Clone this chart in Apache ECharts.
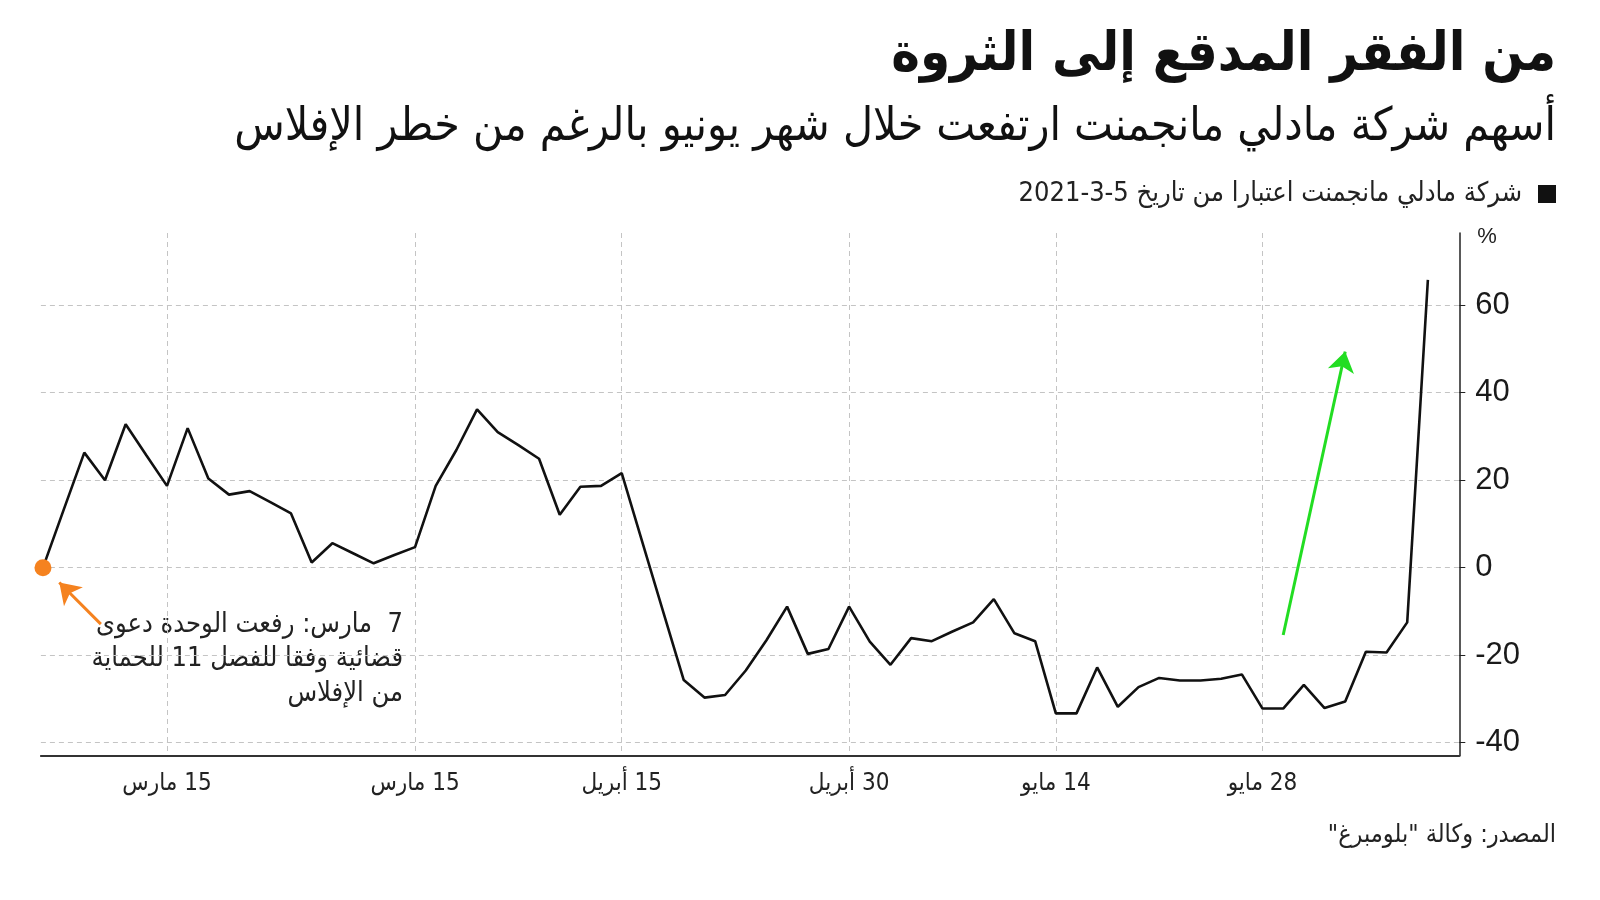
<!DOCTYPE html>
<html>
<head>
<meta charset="utf-8">
<script src="https://cdn.jsdelivr.net/npm/echarts@6/dist/echarts.min.js"></script>
<style>
html, body { margin: 0; padding: 0; background: #fff; }
#main { width: 1600px; height: 900px; direction: rtl; }
</style>
</head>
<body>
<div id="main"></div>
<script>
// أيام التداول (شهر-يوم) 2021
const dates = [
  '3-5', '3-8', '3-9', '3-10', '3-11', '3-12', '3-15', '3-16', '3-17', '3-18', '3-19',
  '3-22', '3-23', '3-24', '3-25', '3-26', '3-29', '3-30', '3-31',
  '4-1', '4-5', '4-6', '4-7', '4-8', '4-9', '4-12', '4-13', '4-14', '4-15', '4-16',
  '4-19', '4-20', '4-21', '4-22', '4-23', '4-26', '4-27', '4-28', '4-29', '4-30',
  '5-3', '5-4', '5-5', '5-6', '5-7', '5-10', '5-11', '5-12', '5-13', '5-14',
  '5-17', '5-18', '5-19', '5-20', '5-21', '5-24', '5-25', '5-26', '5-27', '5-28',
  '6-1', '6-2', '6-3', '6-4', '6-7', '6-8', '6-9', '6-10'
];
// التغير % منذ 5-3-2021
const values = [
  0, 13.2, 26.3, 20.0, 32.8, 25.7, 18.7, 31.9, 20.4, 16.7, 17.5,
  15.0, 12.4, 1.2, 5.6, 3.3, 1.0, 2.9, 4.7,
  18.7, 26.9, 36.2, 31.0, 28.0, 24.9, 12.1, 18.5, 18.7, 21.6, 5.8,
  -10.0, -25.7, -29.7, -29.1, -23.5, -16.6, -8.9, -19.7, -18.6, -8.9,
  -16.9, -22.2, -16.1, -16.8, -14.6, -12.5, -7.2, -15.0, -16.8, -33.3,
  -33.3, -22.8, -31.8, -27.3, -25.2, -25.8, -25.8, -25.4, -24.4, -32.2,
  -32.2, -26.8, -32.1, -30.6, -19.2, -19.4, -12.5, 65.8
];
const tickDates = ['3-15', '3-31', '4-15', '4-30', '5-14', '5-28'];
const tickText = ['15 مارس', '15 مارس', '15 أبريل', '30 أبريل', '14 مايو', '28 مايو'];
const yTicks = [-40, -20, 0, 20, 40, 60];

const tickIdx = tickDates.map(d => dates.indexOf(d));
const AR = '"DejaVu Sans Condensed", "DejaVu Sans", sans-serif';
const gridLine = { show: true, lineStyle: { color: '#c4c4c4', type: [5, 4], width: 1 } };

const seriesData = values.map((v, i) => {
  if (i === 0) {
    return { value: [i, v], symbol: 'circle', symbolSize: 17, itemStyle: { color: '#f5821f' } };
  }
  return [i, v];
});

const myChart = echarts.init(document.getElementById('main'));
const option = {
  backgroundColor: '#fff',
  animation: false,
  grid: { left: 40.9, right: 140.7, top: 233, bottom: 144.2 },
  xAxis: {
    type: 'value',
    min: -0.1,
    max: 68.52,
    axisLine: { show: true, onZero: false, lineStyle: { color: '#333', width: 2 } },
    axisTick: { show: false, customValues: tickIdx },
    axisLabel: {
      customValues: tickIdx,
      margin: 16,
      color: '#222',
      fontSize: 24,
      fontFamily: AR,
      formatter: v => tickText[tickIdx.indexOf(v)] || ''
    },
    splitLine: gridLine
  },
  yAxis: {
    type: 'value',
    position: 'right',
    min: -43,
    max: 76.5,
    axisLine: { show: true, onZero: false, lineStyle: { color: '#222', width: 1.5 } },
    axisTick: { show: true, inside: false, length: 6, customValues: yTicks, lineStyle: { color: '#222' } },
    axisLabel: {
      customValues: yTicks,
      margin: 16,
      color: '#1a1a1a',
      fontSize: 31,
      fontFamily: '"Liberation Sans", Arial, sans-serif',
      formatter: v => '\u200E' + v
    },
    splitLine: gridLine
  },
  series: [{
    type: 'line',
    data: seriesData,
    symbol: 'none',
    lineStyle: { color: '#111', width: 2.6 },
    itemStyle: { color: '#111' },
    z: 3,
    markLine: {
      silent: true,
      symbol: ['none', 'arrow'],
      symbolSize: 20,
      label: { show: false },
      emphasis: { disabled: true },
      data: [
        [{ coord: [60.0, -15.4], lineStyle: { color: '#22dd22', width: 3, type: 'solid' }, itemStyle: { color: '#22dd22' } }, { coord: [63.0, 49.4] }],
        [{ coord: [2.8, -12.9], lineStyle: { color: '#f5821f', width: 3, type: 'solid' }, itemStyle: { color: '#f5821f' } }, { coord: [0.79, -3.4] }]
      ]
    }
  }],
  graphic: [
    { type: 'text', x: 1556, y: 56, style: { text: 'من الفقر المدقع إلى الثروة', font: 'bold 54px ' + AR, fill: '#111', align: 'right', verticalAlign: 'middle' } },
    { type: 'text', x: 1556, y: 128, style: { text: 'أسهم شركة مادلي مانجمنت ارتفعت خلال شهر يونيو بالرغم من خطر الإفلاس', font: '46px ' + AR, fill: '#111', align: 'right', verticalAlign: 'middle' } },
    { type: 'rect', shape: { x: 1538, y: 185, width: 18, height: 18 }, style: { fill: '#111' } },
    { type: 'text', x: 1522, y: 194, style: { text: 'شركة مادلي مانجمنت اعتبارا من تاريخ 5-3-2021', font: '27px ' + AR, fill: '#222', align: 'right', verticalAlign: 'middle' } },
    { type: 'text', x: 1487, y: 237, style: { text: '%', font: '22px "Liberation Sans", Arial, sans-serif', fill: '#222', align: 'center', verticalAlign: 'middle' } },
    { type: 'text', x: 403, y: 625, style: { text: '7  مارس: رفعت الوحدة دعوى', font: '27px ' + AR, fill: '#222', align: 'right', verticalAlign: 'middle' } },
    { type: 'text', x: 403, y: 659, style: { text: 'قضائية وفقا للفصل 11 للحماية', font: '27px ' + AR, fill: '#222', align: 'right', verticalAlign: 'middle' } },
    { type: 'text', x: 403, y: 694, style: { text: 'من الإفلاس', font: '27px ' + AR, fill: '#222', align: 'right', verticalAlign: 'middle' } },
    { type: 'text', x: 1556, y: 835, style: { text: 'المصدر: وكالة "بلومبرغ"', font: '25px ' + AR, fill: '#222', align: 'right', verticalAlign: 'middle' } }
  ]
};
myChart.setOption(option);
</script>
</body>
</html>
